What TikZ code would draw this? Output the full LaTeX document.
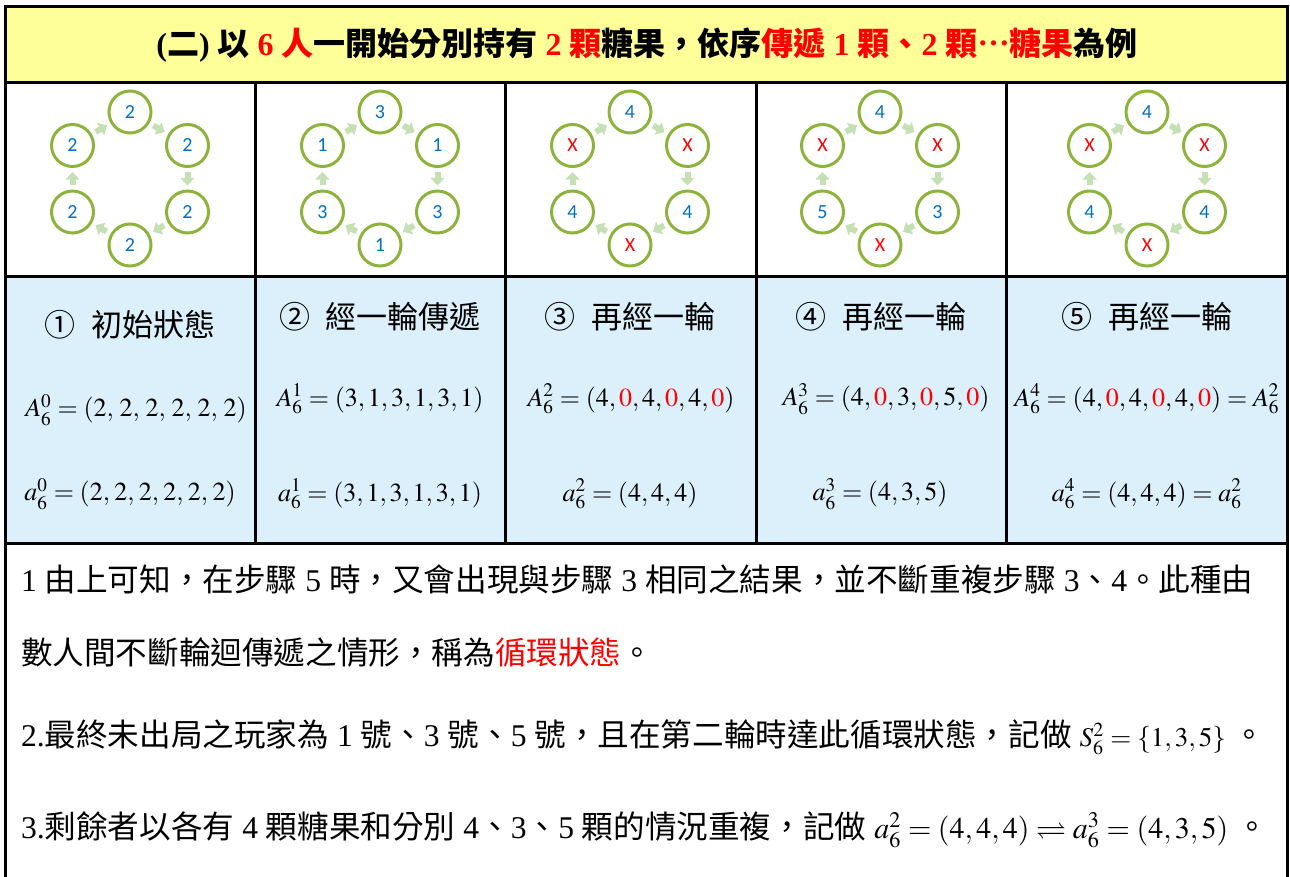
\documentclass[tikz,border=0pt]{standalone}
\usepackage{amssymb}
\usepackage{mathptmx}
\usepackage{fontspec}
\usetikzlibrary{arrows.meta}
\setmainfont{Liberation Serif}
\newfontfamily\zhfont{Noto Sans CJK TC}
\newfontfamily\numfont{Carlito}
\newcommand{\zh}[1]{{\zhfont #1}}
\newcommand{\rx}{\textcolor{red}{X}}
\newcommand{\rz}{\textcolor{red}{0}}
\newcommand{\sm}[2]{{\fontsize{#1}{16}\selectfont #2}}
\definecolor{headfill}{RGB}{255,255,153}
\definecolor{rowfill}{RGB}{219,240,251}
\definecolor{ringgreen}{RGB}{140,180,60}
\definecolor{passgreen}{RGB}{197,224,180}
\definecolor{numblue}{RGB}{0,112,192}
\begin{document}
\begin{tikzpicture}[x=0.5pt,y=-0.5pt,
  rule/.style={line width=1.5pt},
  head/.style={font=\bfseries\fontsize{16}{18}\selectfont},
  pl/.style={circle, draw=ringgreen, line width=1.5pt, minimum size=21pt, inner sep=0pt,
    font=\numfont\fontsize{10}{12}\selectfont, text=numblue},
  pass/.style={draw=passgreen, line width=3pt, -{Triangle[width=7pt,length=3.8pt]},
    shorten >=2pt, shorten <=2.2pt},
  lbl/.style={font=\fontsize{15.5}{18}\selectfont},
  eq/.style={font=\fontsize{13}{15}\selectfont},
  txt/.style={anchor=west, font=\fontsize{15.8}{18}\selectfont}]
\useasboundingbox (0,0) rectangle (1290,877);

% backgrounds
\fill[headfill] (5,6.5) rectangle (1287.5,83);
\fill[rowfill] (5,277) rectangle (1287.5,543);

% table lines
\draw[rule] (5,877) -- (5,6.5) -- (1287.5,6.5) -- (1287.5,877);
\draw[rule] (5,83) -- (1287.5,83);
\draw[rule] (5,277) -- (1287.5,277);
\draw[rule] (5,543) -- (1287.5,543);
\foreach \x in {255,505,756,1006}
	\draw[rule] (\x,83) -- (\x,543);

\node[head] (title) at (647,45) {(\zh{二})\ \zh{以} \textcolor{red}{6 \zh{人}}\zh{一開始分別持有} \textcolor{red}{2 \zh{顆}}\zh{糖果，依序}\textcolor{red}{\zh{傳遞} 1 \zh{顆、}2 \zh{顆}\raisebox{0.3em}{…}\zh{糖果}}\zh{為例}};

% six players in each step
\foreach \c/\cx/\va/\vb/\vc/\vd/\ve/\vf in {1/130/2/2/2/2/2/2, 2/380/3/1/3/1/3/1,
    3/630/4/\rx/4/\rx/4/\rx, 4/880/4/\rx/3/\rx/5/\rx, 5/1147/4/\rx/4/\rx/4/\rx} {
	\node[pl] (p\c-1) at (\cx,112) {\va};
	\node[pl] (p\c-2) at (\cx+57.5,145.5) {\vb};
	\node[pl] (p\c-3) at (\cx+57.5,212) {\vc};
	\node[pl] (p\c-4) at (\cx,245) {\vd};
	\node[pl] (p\c-5) at (\cx-57.5,212) {\ve};
	\node[pl] (p\c-6) at (\cx-57.5,145.5) {\vf};
	\foreach \i/\j in {1/2,2/3,3/4,4/5,5/6,6/1}
		\draw[pass] (p\c-\i) -- (p\c-\j);
}

% step labels
\node[lbl] (s1) at (130,325) {\zh{①\enspace 初始狀態}};
\node[lbl] (s2) at (380,317) {\zh{②\enspace 經一輪傳遞}};
\node[lbl] (s3) at (630,317) {\zh{③\enspace 再經一輪}};
\node[lbl] (s4) at (881,317) {\zh{④\enspace 再經一輪}};
\node[lbl] (s5) at (1147,317) {\zh{⑤\enspace 再經一輪}};

\node[eq] (A1) at (136,410) {$A_6^0=(2,\mkern2mu2,\mkern2mu2,\mkern2mu2,\mkern2mu2,\mkern2mu2)$};
\node[eq] (A2) at (380,399) {$A_6^1=(3,1,3,1,3,1)$};
\node[eq] (A3) at (631,399) {$A_6^2=(4,\rz,4,\rz,4,\rz)$};
\node[eq] (A4) at (886,399) {$A_6^3=(4,\rz,3,\rz,5,\rz)$};
\node[eq] (A5) at (1147,399) {$A_6^4=(4,\rz,4,\rz,4,\rz)=A_6^2$};

\node[eq] (a1) at (130,494) {$a_6^0=(2,\mkern1mu2,\mkern1mu2,\mkern1mu2,\mkern1mu2,\mkern1mu2)$};
\node[eq] (a2) at (380,494) {$a_6^1=(3,1,3,1,3,1)$};
\node[eq] (a3) at (630,494) {$a_6^2=(4,4,4)$};
\node[eq] (a4) at (880,494) {$a_6^3=(4,3,5)$};
\node[eq] (a5) at (1147,494) {$a_6^4=(4,4,4)=a_6^2$};

% notes
\node[txt] (l1) at (14,580) {1 \zh{由上可知，在步驟} 5 \zh{時，又會出現與步驟} 3 \zh{相同之結果，並不斷重複步驟} 3\zh{、}4\zh{。此種由}};
\node[txt] (l2) at (14,653) {\zh{數人間不斷輪迴傳遞之情形，稱為}\textcolor{red}{\zh{循環狀態}}\zh{。}};
\node[txt] (l3) at (14,737) {2.\zh{最終未出局之玩家為} 1 \zh{號、}3 \zh{號、}5 \zh{號，且在第二輪時達此循環狀態，記做} \sm{13.5}{$S_6^2=\{1,3,5\}$} \zh{。}};
\node[txt] (l4) at (14,830) {3.\zh{剩餘者以各有} 4 \zh{顆糖果和分別} 4\zh{、}3\zh{、}5 \zh{顆的情況重複，記做} \sm{15}{$a_6^2=(4,4,4)\rightleftharpoons a_6^3=(4,3,5)$} \zh{。}};
\end{tikzpicture}
\end{document}
